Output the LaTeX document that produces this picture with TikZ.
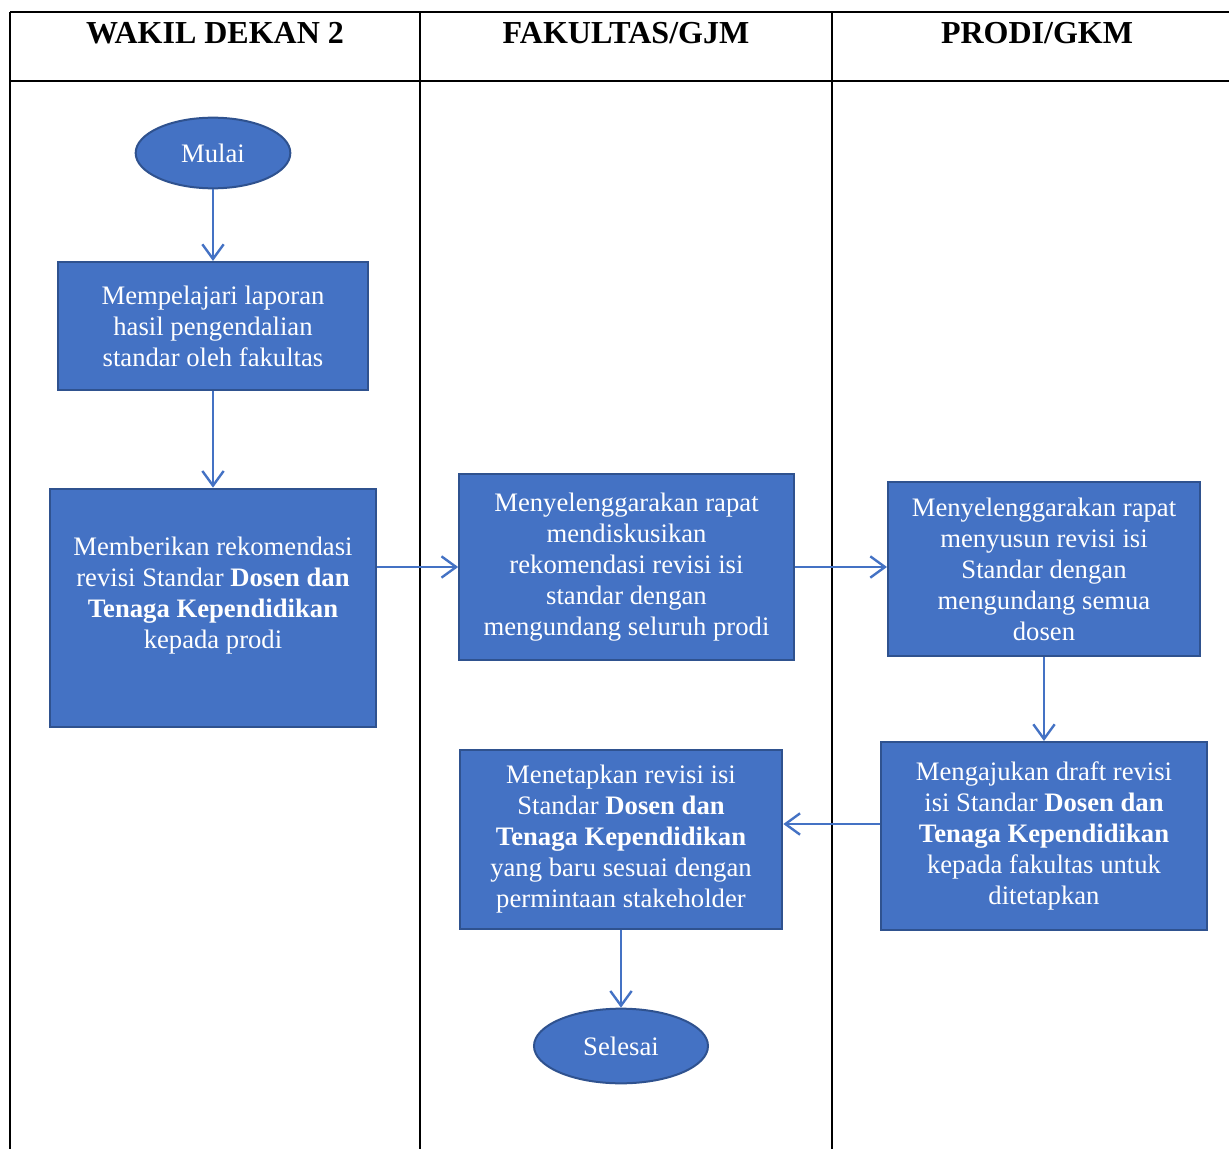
\documentclass[tikz,border=0pt]{standalone}
\usepackage{fontspec}
\setmainfont{Liberation Serif}
\usetikzlibrary{arrows.meta,shapes.geometric}
\definecolor{boxblue}{HTML}{4472C4}
\definecolor{boxedge}{HTML}{2F528F}

\begin{document}
\begin{tikzpicture}[x=0.75pt,y=-0.75pt,
    procbox/.style={draw=boxedge,fill=boxblue,line width=1.5pt,text=white,align=center,
      inner sep=0pt,font=\fontsize{20}{23.25}\selectfont},
    termnode/.style={procbox,ellipse},
    flow/.style={draw=boxblue,line width=1.8pt,-{Straight Barb[length=11pt,width=16pt]}},
    lane/.style={line width=1.5pt},
    head/.style={font=\fontsize{24}{28}\selectfont\bfseries}]
  \useasboundingbox (0,0) rectangle (1229,1149);
  % table
  \draw[lane] (10,12) -- (1229,12);
  \draw[lane] (10,81) -- (1229,81);
  \draw[lane] (10,12) -- (10,1149);
  \draw[lane] (420,12) -- (420,1149);
  \draw[lane] (832,12) -- (832,1149);
  \node[head] (hwd) at (215,33) {WAKIL DEKAN 2};
  \node[head] (hfak) at (626,33) {FAKULTAS/GJM};
  \node[head] (hpro) at (1037,33) {PRODI/GKM};
  % boxes
  \node[termnode,minimum width=116pt,minimum height=53pt] (mulai) at (213,153) {Mulai};
  \node[procbox,minimum width=233pt,minimum height=96pt] (lap) at (213,326)
    {Mempelajari laporan\\hasil pengendalian\\standar oleh fakultas};
  \node[procbox,minimum width=244.5pt,minimum height=179pt] (rek) at (213,608)
    {Memberikan rekomendasi\\revisi Standar \textbf{Dosen dan}\\\textbf{Tenaga Kependidikan}\\kepada prodi\\\mbox{}};
  \node[procbox,minimum width=251pt,minimum height=139.5pt] (rapat) at (626.5,567)
    {Menyelenggarakan rapat\\mendiskusikan\\rekomendasi revisi isi\\standar dengan\\mengundang seluruh prodi};
  \node[procbox,minimum width=234pt,minimum height=130.5pt] (susun) at (1044,569)
    {Menyelenggarakan rapat\\menyusun revisi isi\\Standar dengan\\mengundang semua\\dosen};
  \node[procbox,minimum width=245pt,minimum height=141pt] (ajukan) at (1044,836)
    {Mengajukan draft revisi\\isi Standar \textbf{Dosen dan}\\\textbf{Tenaga Kependidikan}\\kepada fakultas untuk\\ditetapkan};
  \node[procbox,minimum width=242pt,minimum height=134pt] (tetap) at (621,839.5)
    {Menetapkan revisi isi\\Standar \textbf{Dosen dan}\\\textbf{Tenaga Kependidikan}\\yang baru sesuai dengan\\permintaan stakeholder};
  \node[termnode,minimum width=130.5pt,minimum height=56pt] (selesai) at (621,1046) {Selesai};
  % arrows
  \draw[flow] (mulai) -- (lap);
  \draw[flow] (lap) -- (rek);
  \draw[flow] (rek.east |- rapat.west) -- (rapat.west);
  \draw[flow] (rapat.east) -- (rapat.east -| susun.west);
  \draw[flow] (susun) -- (ajukan);
  \draw[flow] ([yshift=9pt]ajukan.west) -- ([yshift=9pt]ajukan.west -| tetap.east);
  \draw[flow] (tetap) -- (selesai);
\end{tikzpicture}
\end{document}
